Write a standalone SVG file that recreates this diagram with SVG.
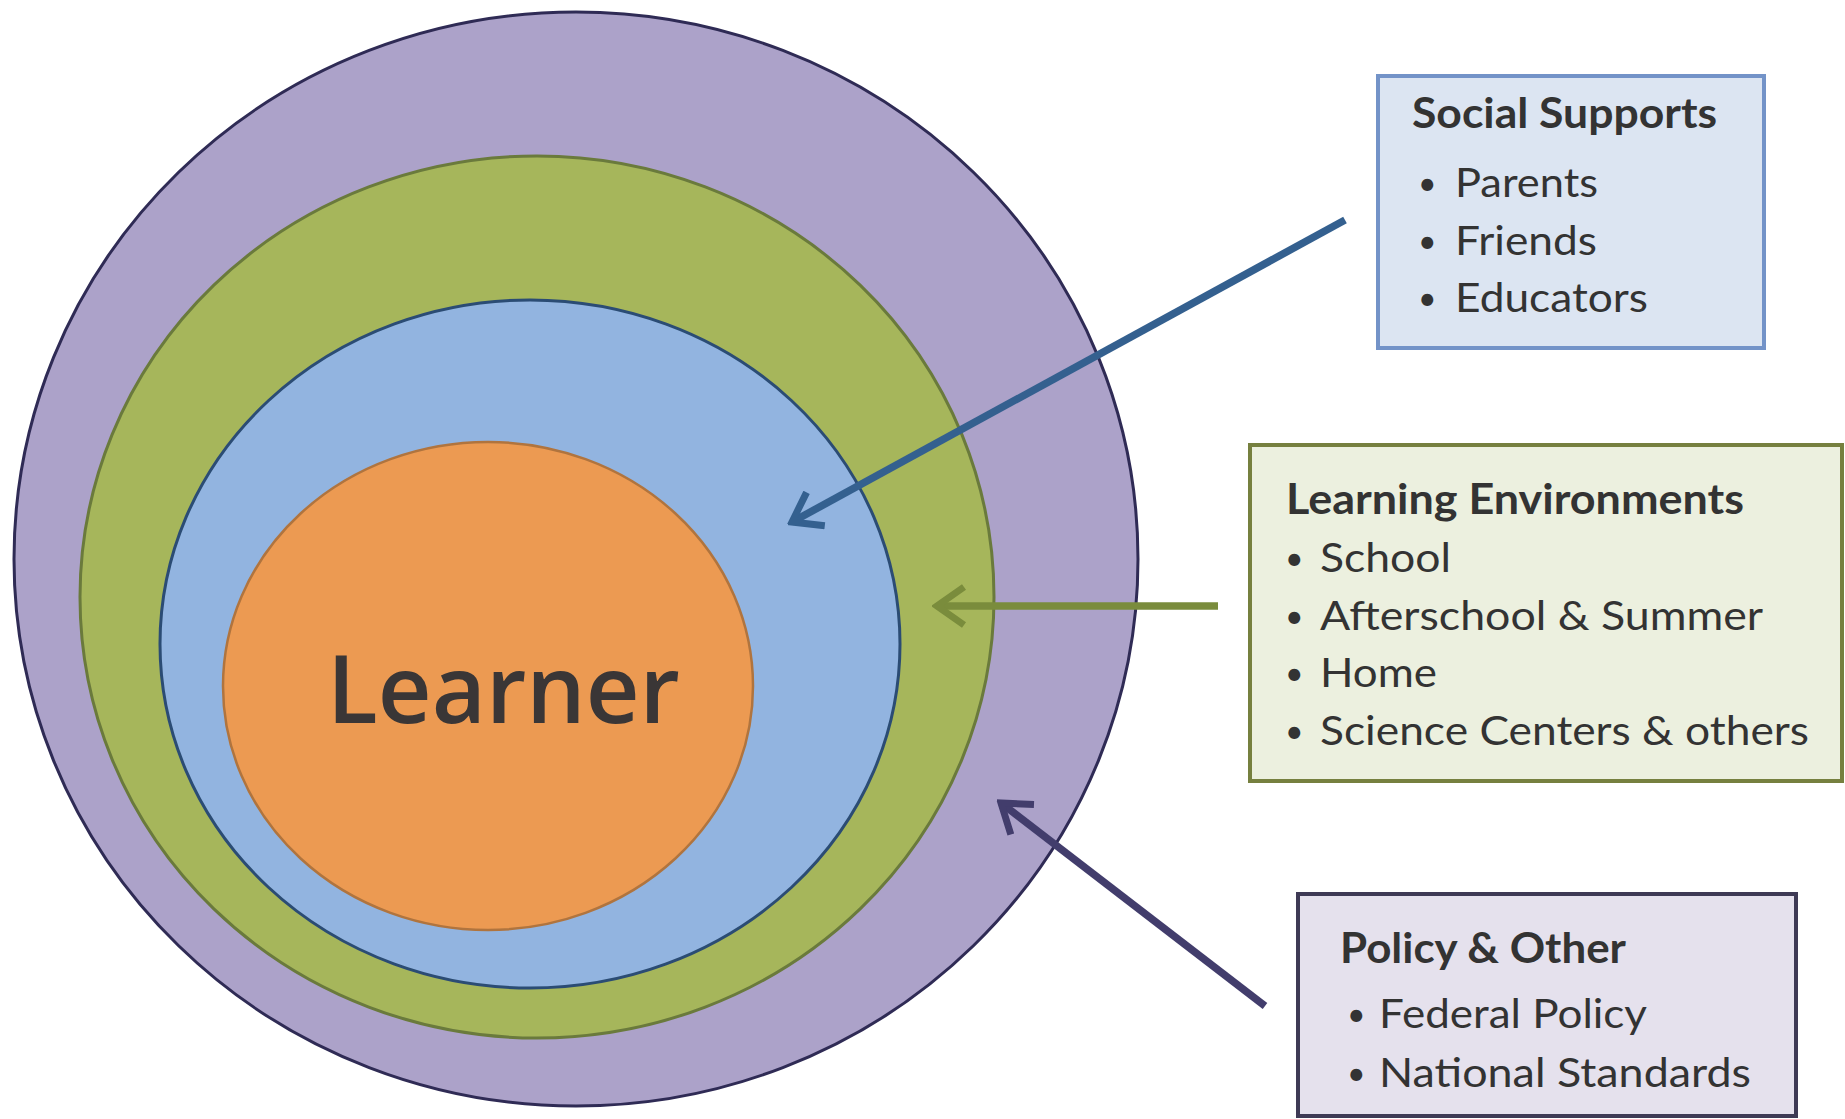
<svg xmlns="http://www.w3.org/2000/svg" width="1845" height="1119" viewBox="0 0 1845 1119">
<style>
.box-title{font-family:Lato,"Liberation Sans",sans-serif;font-weight:bold;font-size:42px;fill:#333333}
.item{font-family:Lato,"Liberation Sans",sans-serif;font-size:41px;fill:#333333}
.bullet{font-family:Lato,"Liberation Sans",sans-serif;font-size:32px;fill:#333333}
.learner{font-family:"Open Sans","Noto Sans",sans-serif;font-weight:600;font-size:95px;fill:#3a3636}
.conn{fill:none;stroke-width:7.5}
</style>
<defs>
<marker id="arrBlue" markerUnits="userSpaceOnUse" viewBox="0 0 44 44" markerWidth="44" markerHeight="44" refX="39" refY="22" orient="auto"><path d="M12,3 L39,22 L12,41" fill="none" stroke="#34608f" stroke-width="7"/></marker>
<marker id="arrGreen" markerUnits="userSpaceOnUse" viewBox="0 0 44 44" markerWidth="44" markerHeight="44" refX="39" refY="22" orient="auto"><path d="M12,3 L39,22 L12,41" fill="none" stroke="#7a8c3c" stroke-width="7"/></marker>
<marker id="arrPurple" markerUnits="userSpaceOnUse" viewBox="0 0 44 44" markerWidth="44" markerHeight="44" refX="39" refY="22" orient="auto"><path d="M12,3 L39,22 L12,41" fill="none" stroke="#423d6c" stroke-width="7"/></marker>
</defs>
<rect width="1845" height="1119" fill="#ffffff"/>
<g id="policy-ring"><ellipse cx="576" cy="559" rx="562" ry="547" fill="#aca2c9" stroke="#2f2b55" stroke-width="3"/></g>
<g id="environment-ring"><ellipse cx="537" cy="597" rx="457" ry="441" fill="#a6b65b" stroke="#6a7a3c" stroke-width="3"/></g>
<g id="social-ring"><ellipse cx="530" cy="644" rx="370" ry="344" fill="#92b4e0" stroke="#2b4c74" stroke-width="3"/></g>
<g id="learner"><ellipse cx="488" cy="686" rx="265" ry="244" fill="#ec9a52" stroke="#b0743e" stroke-width="2.5"/>
<text class="learner" x="327" y="723" textLength="353" lengthAdjust="spacingAndGlyphs">Learner</text></g>
<g id="connectors">
<line class="conn" x1="1345" y1="220" x2="792" y2="522" stroke="#34608f" marker-end="url(#arrBlue)"/>
<line class="conn" x1="1218" y1="606" x2="937" y2="606" stroke="#7a8c3c" marker-end="url(#arrGreen)"/>
<line class="conn" x1="1265" y1="1006" x2="1001" y2="803" stroke="#423d6c" marker-end="url(#arrPurple)"/>
</g>
<g id="social-supports">
<rect x="1378" y="76" width="386" height="272" fill="#dce5f2" stroke="#7393c8" stroke-width="4"/>
<text class="box-title" x="1412" y="128" textLength="305" lengthAdjust="spacingAndGlyphs">Social Supports</text>
<text class="bullet" x="1418" y="195">•</text><text class="item" x="1455" y="197" textLength="143" lengthAdjust="spacingAndGlyphs">Parents</text>
<text class="bullet" x="1418" y="253">•</text><text class="item" x="1455" y="255" textLength="142" lengthAdjust="spacingAndGlyphs">Friends</text>
<text class="bullet" x="1418" y="310">•</text><text class="item" x="1455" y="312" textLength="193" lengthAdjust="spacingAndGlyphs">Educators</text>
</g>
<g id="learning-environments">
<rect x="1250" y="445" width="592" height="336" fill="#ecf0df" stroke="#76803f" stroke-width="4"/>
<text class="box-title" x="1286" y="514" textLength="458" lengthAdjust="spacingAndGlyphs">Learning Environments</text>
<text class="bullet" x="1285" y="570">•</text><text class="item" x="1320" y="572" textLength="131" lengthAdjust="spacingAndGlyphs">School</text>
<text class="bullet" x="1285" y="628">•</text><text class="item" x="1320" y="630" textLength="443" lengthAdjust="spacingAndGlyphs">Afterschool &amp; Summer</text>
<text class="bullet" x="1285" y="685">•</text><text class="item" x="1320" y="687" textLength="117" lengthAdjust="spacingAndGlyphs">Home</text>
<text class="bullet" x="1285" y="743">•</text><text class="item" x="1320" y="745" textLength="489" lengthAdjust="spacingAndGlyphs">Science Centers &amp; others</text>
</g>
<g id="policy-other">
<rect x="1298" y="894" width="498" height="222" fill="#e5e1ed" stroke="#3e3a55" stroke-width="4"/>
<text class="box-title" x="1340" y="963" textLength="286" lengthAdjust="spacingAndGlyphs">Policy &amp; Other</text>
<text class="bullet" x="1347" y="1026">•</text><text class="item" x="1379" y="1028" textLength="268" lengthAdjust="spacingAndGlyphs">Federal Policy</text>
<text class="bullet" x="1347" y="1085">•</text><text class="item" x="1379" y="1087" textLength="372" lengthAdjust="spacingAndGlyphs">National Standards</text>
</g>
</svg>
